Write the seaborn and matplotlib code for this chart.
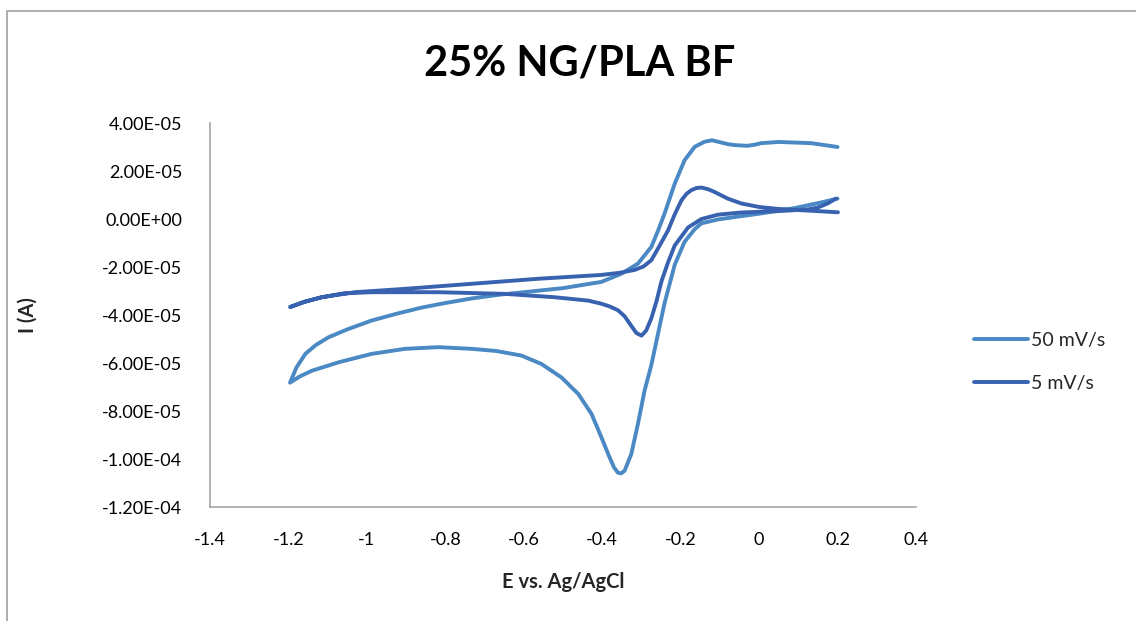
import matplotlib
matplotlib.use("Agg")
import matplotlib.pyplot as plt
import seaborn as sns
import pandas as pd
from matplotlib.patches import Rectangle
from matplotlib.lines import Line2D

# ---------------- data (E in V, I in units of 1e-5 A) ----------------
E_50 = [0.200, 0.150, 0.089, 0.000, -0.063, -0.105, -0.147, -0.164, -0.190, -0.215,
        -0.241, -0.258, -0.275, -0.292, -0.309, -0.326, -0.343, -0.352, -0.360, -0.370,
        -0.381, -0.402, -0.427, -0.461, -0.504, -0.555, -0.606, -0.670, -0.733, -0.818,
        -0.903, -0.988, -1.072, -1.140, -1.170, -1.196,
        -1.180, -1.157, -1.130, -1.098, -1.050, -0.988, -0.920, -0.860, -0.800, -0.733,
        -0.660, -0.600, -0.500, -0.402, -0.351, -0.309, -0.275, -0.258, -0.241, -0.215,
        -0.190, -0.164, -0.139, -0.120, -0.105, -0.080, -0.063, -0.030, -0.010,
        0.005, 0.049, 0.133, 0.200]
I_50 = [0.85, 0.66, 0.45, 0.22, 0.08, -0.02, -0.18, -0.42, -0.95, -1.90,
        -3.50, -4.80, -6.10, -7.15, -8.54, -9.80, -10.49, -10.60, -10.57, -10.35,
        -9.94, -9.10, -8.13, -7.29, -6.60, -6.04, -5.69, -5.50, -5.41, -5.34,
        -5.41, -5.62, -5.97, -6.32, -6.55, -6.82,
        -6.20, -5.62, -5.25, -4.93, -4.60, -4.23, -3.93, -3.69, -3.50, -3.31,
        -3.15, -3.05, -2.88, -2.62, -2.28, -1.86, -1.17, -0.50, 0.23, 1.48,
        2.45, 3.01, 3.22, 3.28, 3.22, 3.12, 3.08, 3.05, 3.10,
        3.16, 3.21, 3.16, 3.00]

E_5 = [0.196, 0.175, 0.150, 0.125, 0.050, 0.000, -0.046, -0.105, -0.147, -0.181,
       -0.215, -0.232, -0.249, -0.262, -0.275, -0.288, -0.300, -0.313, -0.326, -0.343,
       -0.360, -0.380, -0.402, -0.436, -0.521, -0.648, -0.818, -0.988, -1.060, -1.115,
       -1.160, -1.196,
       -1.158, -1.115, -1.030, -0.903, -0.733, -0.563, -0.402, -0.355, -0.317, -0.295,
       -0.275, -0.255, -0.232, -0.215, -0.198, -0.185, -0.173, -0.160, -0.147, -0.130,
       -0.114, -0.080, -0.046, 0.000, 0.049, 0.125, 0.201]
I_5 = [0.85, 0.65, 0.48, 0.40, 0.33, 0.30, 0.27, 0.18, 0.00, -0.35,
       -1.10, -1.80, -2.60, -3.45, -4.15, -4.65, -4.86, -4.75, -4.45, -4.05,
       -3.80, -3.65, -3.53, -3.40, -3.26, -3.12, -3.05, -3.05, -3.10, -3.26,
       -3.45, -3.67,
       -3.45, -3.26, -3.05, -2.91, -2.70, -2.49, -2.33, -2.24, -2.12, -1.98,
       -1.72, -1.15, -0.47, 0.20, 0.78, 1.05, 1.20, 1.29, 1.31, 1.24,
       1.13, 0.85, 0.65, 0.50, 0.42, 0.35, 0.28]

series_names = ["50 mV/s", "5 mV/s"]
colors = ["#4A89C4", "#3862B0"]
x_ticks = [-1.4, -1.2, -1.0, -0.8, -0.6, -0.4, -0.2, 0.0, 0.2, 0.4]
x_tick_labels = ["-1.4", "-1.2", "-1", "-0.8", "-0.6", "-0.4", "-0.2", "0", "0.2", "0.4"]
y_ticks = [4e-5, 2e-5, 0, -2e-5, -4e-5, -6e-5, -8e-5, -1e-4, -1.2e-4]
y_tick_labels = ["4.00E-05", "2.00E-05", "0.00E+00", "-2.00E-05", "-4.00E-05",
                 "-6.00E-05", "-8.00E-05", "-1.00E-04", "-1.20E-04"]

df = pd.concat([
    pd.DataFrame({"E": E_50, "I": [v * 1e-5 for v in I_50], "series": series_names[0]}),
    pd.DataFrame({"E": E_5, "I": [v * 1e-5 for v in I_5], "series": series_names[1]}),
], ignore_index=True)

sns.set_theme(style="white")
plt.rcParams["font.family"] = ["Lato", "DejaVu Sans"]

fig = plt.figure(figsize=(11.36, 6.21), dpi=100)
W, H = 1136, 621
ax = fig.add_axes([210 / W, 1 - 507 / H, (916 - 210) / W, (507 - 123) / H])

sns.lineplot(data=df, x="E", y="I", hue="series", palette=colors, sort=False,
             estimator=None, linewidth=2.8, ax=ax, legend=False)
for ln in ax.lines:
    ln.set_solid_joinstyle("round")
    ln.set_solid_capstyle("round")

ax.set_xlim(-1.4, 0.4)
ax.set_ylim(-1.2e-4, 4e-5)
ax.set_xticks(x_ticks)
ax.set_xticklabels(x_tick_labels, fontsize=13)
ax.set_yticks(y_ticks)
ax.set_yticklabels(y_tick_labels, fontsize=13)
ax.tick_params(axis="both", which="both", direction="out", length=7, width=1,
               color="#A6A6A6", labelcolor="black")
ax.tick_params(axis="x", pad=11)
ax.tick_params(axis="y", pad=13)
for s in ["top", "right"]:
    ax.spines[s].set_visible(False)
for s in ["left", "bottom"]:
    ax.spines[s].set_color("#A6A6A6")
    ax.spines[s].set_linewidth(1.2)
ax.grid(False)

ax.set_xlabel("E vs. Ag/AgCl", fontsize=14.5, fontweight="bold")
ax.set_ylabel("I (A)", fontsize=14.5, fontweight="bold")
ax.xaxis.set_label_coords(0.5, -0.169)
ax.yaxis.set_label_coords(-0.2436, 0.5)

fig.text(580 / W, 1 - 64 / H, "25% NG/PLA BF", fontsize=30, fontweight="bold",
         ha="center", va="center", color="black")

handles = [Line2D([], [], color=c, lw=2.8) for c in colors]
fig.legend(handles, series_names, loc="center left",
           bbox_to_anchor=(956 / W, 1 - 362 / H), frameon=False, fontsize=14,
           handlelength=2.8, handletextpad=0.15, labelspacing=1.35)

fig.patches.append(Rectangle((7 / W, -0.1), 1.2, 1 - 11 / H + 0.1, transform=fig.transFigure,
                             fill=False, edgecolor="#A0A0A0", linewidth=1.2))

fig.savefig("out.png", dpi=100)
